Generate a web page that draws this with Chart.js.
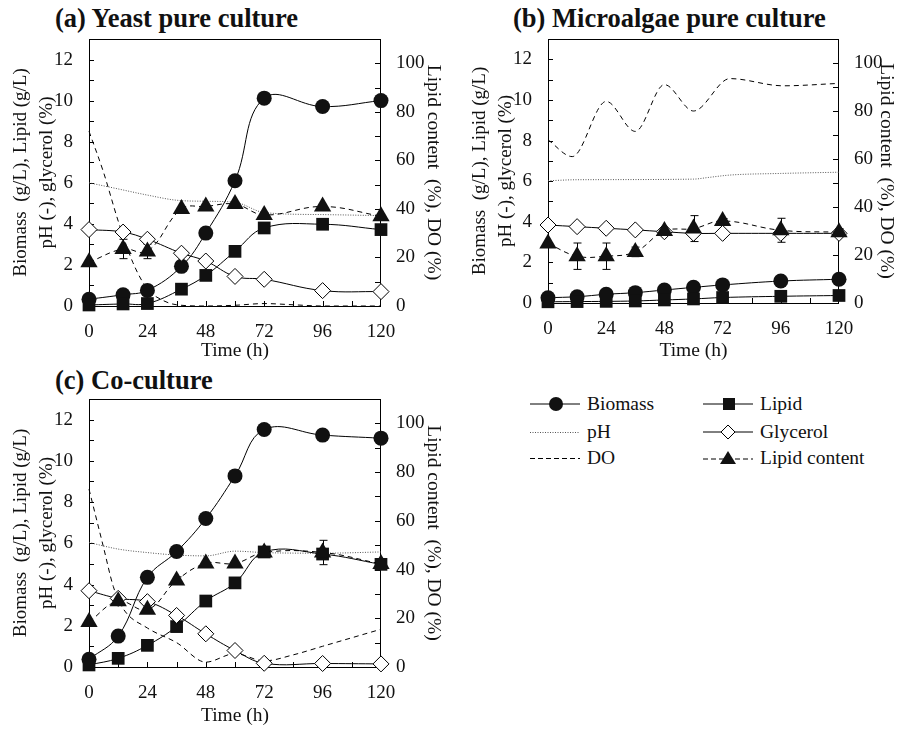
<!DOCTYPE html>
<html>
<head>
<meta charset="utf-8">
<script src="https://cdn.jsdelivr.net/npm/chart.js@4.4.0/dist/chart.umd.min.js"></script>
<style>
  body { margin: 0; background: #fff; width: 905px; height: 731px; overflow: hidden; position: relative;
         font-family: 'Liberation Serif', 'Times New Roman', serif; color: #111; }
  canvas { position: absolute; }
  .ttl { position: absolute; font-weight: bold; font-size: 26.5px; white-space: nowrap; line-height: 30px; }
  .leg { position: absolute; font-size: 19.5px; white-space: nowrap; display: flex; align-items: center; height: 22px; }
  .leg svg { margin-right: 7px; }
</style>
</head>
<body>

<div class="ttl" style="left:55px; top:3px;">(a) Yeast pure culture</div>
<div class="ttl" style="left:513px; top:3px;">(b) Microalgae pure culture</div>
<div class="ttl" style="left:55px; top:365px;">(c) Co-culture</div>

<canvas id="chartA" width="450" height="366" style="left:0; top:0;"></canvas>
<canvas id="chartB" width="446" height="366" style="left:459px; top:0;"></canvas>
<canvas id="chartC" width="450" height="371" style="left:0; top:360px;"></canvas>

<!-- legenda -->
<div class="leg" style="left:530px; top:393px;">
  <svg width="50" height="16"><line x1="0" y1="8" x2="50" y2="8" stroke="#000"/><circle cx="26" cy="8" r="7" fill="#111"/></svg>Biomass</div>
<div class="leg" style="left:530px; top:421px;">
  <svg width="50" height="16"><line x1="0" y1="8.5" x2="50" y2="8.5" stroke="#555" stroke-dasharray="1,1.5"/></svg>pH</div>
<div class="leg" style="left:530px; top:447px;">
  <svg width="50" height="16"><line x1="0" y1="8.5" x2="50" y2="8.5" stroke="#000" stroke-dasharray="5,3"/></svg>DO</div>
<div class="leg" style="left:703px; top:393px;">
  <svg width="50" height="16"><line x1="0" y1="8" x2="50" y2="8" stroke="#000"/><rect x="20" y="2" width="12" height="12" fill="#111"/></svg>Lipid</div>
<div class="leg" style="left:703px; top:421px;">
  <svg width="50" height="16"><line x1="0" y1="8" x2="50" y2="8" stroke="#000"/><polygon points="25,1 32,8 25,15 18,8" fill="#fff" stroke="#000"/></svg>Glycerol</div>
<div class="leg" style="left:703px; top:447px;">
  <svg width="50" height="16"><line x1="0" y1="9" x2="50" y2="9" stroke="#000" stroke-dasharray="5,3"/><polygon points="25,1 33,14 17,14" fill="#111"/></svg>Lipid content</div>

<script>
// ---- (a) Yeast pure culture ----
const timeA = [0, 14, 24, 38, 48, 60, 72, 96, 120];
const biomassA = [0.33, 0.55, 0.76, 1.93, 3.55, 6.1, 10.12, 9.71, 10.0];
const lipidA = [0.05, 0.1, 0.12, 0.82, 1.49, 2.66, 3.8, 3.98, 3.72];
const glycerolA = [3.72, 3.6, 3.25, 2.57, 2.19, 1.44, 1.3, 0.75, 0.7];
const lipidContentA = [18, 23.5, 22.5, 40, 41, 42, 37.5, 41, 37];
const lipidContentErrA = [0, 4, 3, 0, 0, 0, 0, 0, 0];
const phTimeA = [0, 12, 24, 36, 48, 60, 72, 96, 120];
const phA = [6.0, 5.7, 5.4, 5.15, 5.1, 5.05, 4.55, 4.45, 4.4];
const doTimeA = [0, 6, 12, 18, 24, 30, 36, 48, 60, 72, 84, 96, 120];
const doA = [72, 55, 35, 18, 7, 2.5, 0.5, 0, 0.3, 1, 0.5, 0, 0];

// ---- (b) Microalgae pure culture ----
const timeB = [0, 12, 24, 36, 48, 60, 72, 96, 120];
const biomassB = [0.26, 0.31, 0.43, 0.51, 0.64, 0.77, 0.89, 1.08, 1.17];
const lipidB = [0.06, 0.07, 0.08, 0.1, 0.15, 0.2, 0.27, 0.33, 0.37];
const glycerolB = [3.84, 3.76, 3.68, 3.6, 3.51, 3.43, 3.43, 3.43, 3.43];
const lipidContentB = [24.8, 19.5, 19.5, 21.3, 30, 31, 34.2, 30.3, 29.5];
const lipidContentErrB = [0, 5.5, 5.5, 2, 1, 5.4, 1, 5, 1.5];
const phTimeB = [0, 12, 60, 66, 75, 96, 120];
const phB = [6.02, 6.07, 6.1, 6.18, 6.3, 6.38, 6.44];
const doTimeB = [0, 10, 24, 36, 48, 60, 75, 97, 120];
const doB = [68, 61, 84, 71.5, 91, 80, 93.5, 90.5, 91.5];

// ---- (c) Co-culture ----
const timeC = [0, 12, 24, 36, 48, 60, 72, 96, 120];
const biomassC = [0.37, 1.5, 4.35, 5.6, 7.2, 9.27, 11.52, 11.25, 11.1];
const lipidC = [0.1, 0.42, 1.05, 1.96, 3.2, 4.08, 5.58, 5.48, 4.98];
const glycerolC = [3.7, 3.33, 3.17, 2.5, 1.61, 0.8, 0.18, 0.17, 0.15];
const lipidContentC = [18.5, 27, 23.5, 35.5, 42.5, 42.5, 47, 47, 42.3];
const lipidContentErrC = [0, 1.5, 1, 1.5, 0.5, 0.5, 1, 5, 1];
const phTimeC = [0, 12, 24, 36, 48, 60, 72, 96, 120];
const phC = [6.04, 5.72, 5.55, 5.43, 5.39, 5.62, 5.55, 5.52, 5.58];
const doTimeC = [0, 6, 10, 14, 24, 36, 48, 60, 72, 84, 96, 108, 120];
const doC = [73, 49, 33, 24, 16, 10, 2, 5.5, 2.5, 5, 8.5, 12, 15.5];

const leftTitle = ['Biomass  (g/L), Lipid (g/L)', 'pH (-), glycerol (%)'];
const rightTitle = 'Lipid content  (%), DO (%)';
const xTitle = 'Time (h)';

Chart.defaults.font.family = "'Liberation Serif', 'Times New Roman', serif";
Chart.defaults.color = '#111';

function pts(xs, ys) {
    return xs.map((x, i) => ({ x: x, y: ys[i] }));
}

// bingkai + tick ke dalam
const frameTicks = {
    id: 'frameTicks',
    beforeDatasetsDraw(chart) {
        const { ctx, chartArea: a, scales } = chart;
        ctx.save();
        ctx.strokeStyle = '#000';
        ctx.lineWidth = 1;
        ctx.strokeRect(a.left + 0.5, a.top + 0.5, a.right - a.left - 1, a.bottom - a.top);
        ctx.beginPath();
        for (let v = 12; v < 120; v += 12) {
            const x = Math.round(scales.x.getPixelForValue(v)) + 0.5;
            ctx.moveTo(x, a.bottom); ctx.lineTo(x, a.bottom - 5);
        }
        for (let v = 1; v < 13; v++) {
            const y = Math.round(scales.y.getPixelForValue(v)) + 0.5;
            ctx.moveTo(a.left, y); ctx.lineTo(a.left + 5, y);
        }
        for (let v = 10; v < 110; v += 10) {
            const y = Math.round(scales.y2.getPixelForValue(v)) + 0.5;
            ctx.moveTo(a.right, y); ctx.lineTo(a.right - 6, y);
        }
        ctx.stroke();
        ctx.restore();
    }
};

// error bar untuk lipid content
const errorBars = {
    id: 'errorBars',
    beforeDatasetsDraw(chart, args, opts) {
        const meta = chart.getDatasetMeta(opts.datasetIndex);
        const ds = chart.data.datasets[opts.datasetIndex];
        const y2 = chart.scales.y2;
        const ctx = chart.ctx;
        ctx.save();
        ctx.strokeStyle = '#000';
        ctx.lineWidth = 1;
        ctx.beginPath();
        meta.data.forEach((pt, i) => {
            const e = opts.errors[i];
            if (!e) return;
            const v = ds.data[i].y;
            const x = Math.round(pt.x) + 0.5;
            const yt = y2.getPixelForValue(v + e);
            const yb = y2.getPixelForValue(v - e);
            ctx.moveTo(x, yt); ctx.lineTo(x, yb);
            ctx.moveTo(x - 4, yt); ctx.lineTo(x + 4, yt);
            ctx.moveTo(x - 4, yb); ctx.lineTo(x + 4, yb);
        });
        ctx.stroke();
        ctx.restore();
    }
};

function buildPanel(canvasId, d, box) {
    const ctx = document.getElementById(canvasId);
    return new Chart(ctx, {
        type: 'line',
        data: {
            datasets: [
                {
                    label: 'Lipid content', yAxisID: 'y2', data: pts(d.time, d.lipidContent),
                    borderColor: '#000', borderWidth: 1, borderDash: [5, 4], tension: 0.4,
                    pointStyle: 'triangle', pointRadius: 10, pointBackgroundColor: '#111', pointBorderColor: '#111', pointBorderWidth: 0
                },
                {
                    label: 'Glycerol', yAxisID: 'y', data: pts(d.time, d.glycerol),
                    borderColor: '#000', borderWidth: 1, tension: 0.4,
                    pointStyle: 'rectRot', pointRadius: 8, pointBackgroundColor: '#fff', pointBorderColor: '#000', pointBorderWidth: 1
                },
                {
                    label: 'Lipid', yAxisID: 'y', data: pts(d.time, d.lipid),
                    borderColor: '#000', borderWidth: 1, tension: 0.4,
                    pointStyle: 'rect', pointRadius: 9, pointBackgroundColor: '#111', pointBorderColor: '#111', pointBorderWidth: 0
                },
                {
                    label: 'Biomass', yAxisID: 'y', data: pts(d.time, d.biomass),
                    borderColor: '#000', borderWidth: 1, tension: 0.4,
                    pointStyle: 'circle', pointRadius: 7.5, pointBackgroundColor: '#111', pointBorderColor: '#111', pointBorderWidth: 0
                },
                {
                    label: 'pH', yAxisID: 'y', data: pts(d.phTime, d.ph),
                    borderColor: '#555', borderWidth: 1, borderDash: [1, 1.5], cubicInterpolationMode: 'monotone',
                    pointRadius: 0
                },
                {
                    label: 'DO', yAxisID: 'y2', data: pts(d.doTime, d.do),
                    borderColor: '#000', borderWidth: 1, borderDash: [5, 4], cubicInterpolationMode: 'monotone',
                    pointRadius: 0
                }
            ]
        },
        options: {
            responsive: false,
            animation: false,
            devicePixelRatio: 1,
            clip: false,
            layout: { padding: { top: 39, left: 0, right: 0, bottom: 0 } },
            plugins: {
                legend: { display: false },
                tooltip: { enabled: false },
                errorBars: { datasetIndex: 0, errors: d.lipidContentErr }
            },
            scales: {
                x: {
                    type: 'linear', min: 0, max: 120,
                    grid: { display: false, drawTicks: false },
                    border: { display: false },
                    ticks: { stepSize: 24, padding: 15, font: { size: 19 }, maxRotation: 0 },
                    title: { display: true, text: xTitle, font: { size: 19.5 }, padding: { top: 0, bottom: 3 } },
                    afterFit(s) { s.height = box.xh; }
                },
                y: {
                    position: 'left', min: 0, max: 13,
                    grid: { display: false, drawTicks: false },
                    border: { display: false },
                    ticks: { stepSize: 2, padding: 16, includeBounds: false, font: { size: 19 } },
                    title: { display: true, text: leftTitle, font: { size: 19, lineHeight: 1.37 }, padding: { top: 8, bottom: 0 } },
                    afterFit(s) { s.width = box.yw; }
                },
                y2: {
                    position: 'right', min: 0, max: 110,
                    grid: { display: false, drawTicks: false },
                    border: { display: false },
                    ticks: { stepSize: 20, padding: 15, includeBounds: false, font: { size: 19 } },
                    title: { display: true, text: rightTitle, font: { size: 19.5 }, padding: { top: box.rp, bottom: 0 } },
                    afterFit(s) { s.width = box.y2w; }
                }
            }
        },
        plugins: [frameTicks, errorBars]
    });
}

buildPanel('chartA', {
    time: timeA, biomass: biomassA, lipid: lipidA, glycerol: glycerolA,
    lipidContent: lipidContentA, lipidContentErr: lipidContentErrA,
    phTime: phTimeA, ph: phA, doTime: doTimeA, do: doA
}, { xh: 60, yw: 89, y2w: 69, rp: 5 });

buildPanel('chartB', {
    time: timeB, biomass: biomassB, lipid: lipidB, glycerol: glycerolB,
    lipidContent: lipidContentB, lipidContentErr: lipidContentErrB,
    phTime: phTimeB, ph: phB, doTime: doTimeB, do: doB
}, { xh: 63, yw: 89, y2w: 66, rp: 7 });

buildPanel('chartC', {
    time: timeC, biomass: biomassC, lipid: lipidC, glycerol: glycerolC,
    lipidContent: lipidContentC, lipidContentErr: lipidContentErrC,
    phTime: phTimeC, ph: phC, doTime: doTimeC, do: doC
}, { xh: 64, yw: 89, y2w: 69, rp: 5 });
</script>
</body>
</html>
